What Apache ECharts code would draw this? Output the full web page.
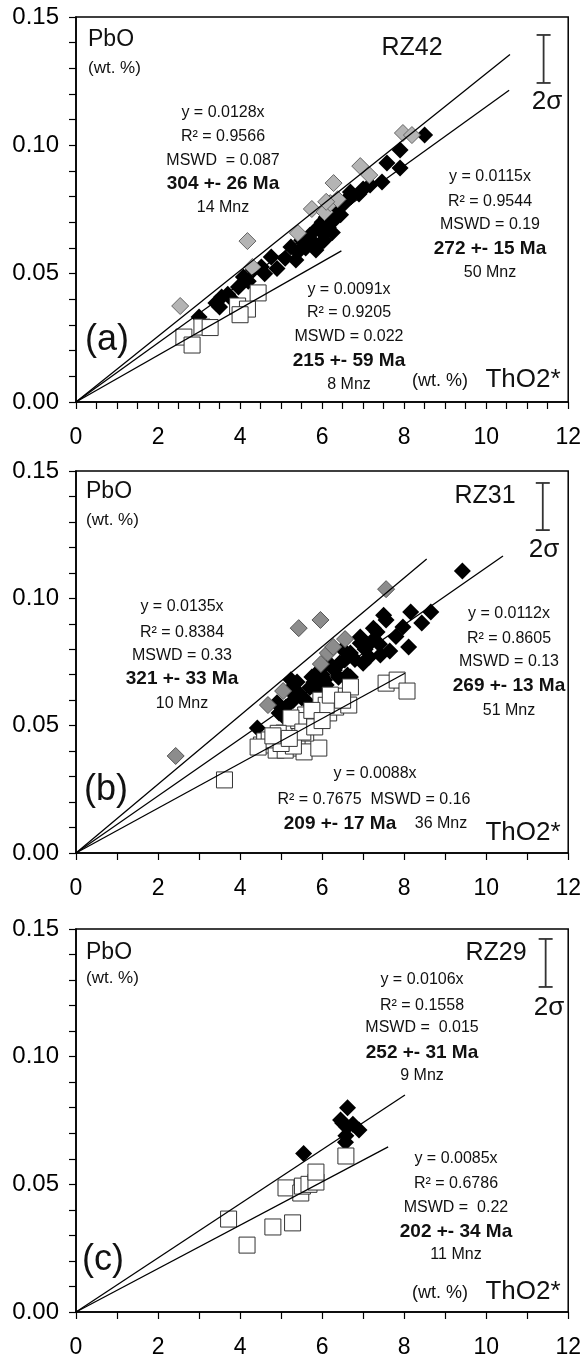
<!DOCTYPE html>
<html>
<head>
<meta charset="utf-8">
<script src="https://cdn.jsdelivr.net/npm/echarts@6/dist/echarts.min.js"></script>
<style>
  html, body { margin: 0; padding: 0; background: #fff; }
  #chart { width: 584px; height: 1360px; }
</style>
</head>
<body>
<div id="chart"></div>
<script>
// ---- data (ThO2* wt.%, PbO wt.%) ----
const xTicks = [0, 2, 4, 6, 8, 10, 12]
const yTicks = [0.00, 0.05, 0.10, 0.15]

// (a) RZ42
const aGray = [[7.97,0.1048],[8.19,0.1040],[6.93,0.0919],[7.15,0.0884],[6.28,0.0853],[5.75,0.0752],[6.06,0.0740],[6.20,0.0775],[6.38,0.0790],[5.41,0.0658],[4.18,0.0627],[4.30,0.0526],[2.54,0.0374],[6.10,0.0780]]
const aBlack = [[8.50,0.1040],[7.90,0.0982],[7.58,0.0931],[7.90,0.0912],[7.46,0.0857],[7.17,0.0845],[6.69,0.0818],[6.55,0.0775],[6.21,0.0709],[6.06,0.0658],[5.97,0.0619],[5.85,0.0592],[5.41,0.0584],[5.24,0.0604],[5.36,0.0553],[4.76,0.0565],[4.52,0.0526],[4.32,0.0514],[4.08,0.0487],[3.96,0.0448],[3.55,0.0409],[3.41,0.0386],[3.00,0.0331],[5.50,0.0630],[5.60,0.0600],[5.70,0.0650],[5.80,0.0620],[5.90,0.0680],[6.00,0.0660],[6.00,0.0700],[6.10,0.0720],[6.15,0.0680],[6.20,0.0740],[6.30,0.0710],[6.35,0.0750],[6.40,0.0770],[6.45,0.0730],[6.60,0.0790],[6.70,0.0800],[6.90,0.0810],[7.00,0.0830],[5.10,0.0560],[4.90,0.0520],[4.60,0.0500],[4.20,0.0470],[3.70,0.0420],[3.80,0.0400],[3.50,0.0370],[6.05,0.0630],[6.25,0.0660]]
const aOpen = [[2.63,0.0253],[2.83,0.0222],[3.07,0.0292],[3.27,0.0290],[3.94,0.0374],[4.18,0.0362],[4.44,0.0425],[4.00,0.0340]]

// (b) RZ31
const bGray = [[2.43,0.0381],[4.68,0.0581],[5.05,0.0636],[5.43,0.0883],[5.96,0.0915],[5.97,0.0742],[6.14,0.0785],[6.27,0.0809],[6.56,0.0840],[7.56,0.1036]]
const bBlack = [[9.42,0.1107],[8.65,0.0946],[8.16,0.0946],[8.43,0.0903],[7.97,0.0887],[8.11,0.0809],[7.56,0.0915],[7.25,0.0883],[7.65,0.0793],[7.42,0.0777],[7.15,0.0770],[6.93,0.0824],[6.69,0.0785],[6.43,0.0746],[6.69,0.0691],[6.06,0.0679],[5.75,0.0691],[5.39,0.0671],[5.43,0.0628],[5.12,0.0573],[5.07,0.0534],[4.42,0.0491],[5.60,0.0600],[5.89,0.0640],[7.50,0.0934],[7.34,0.0868],[6.93,0.0848],[6.55,0.0758],[6.30,0.0719],[6.62,0.0699],[5.24,0.0680],[7.05,0.0800],[7.20,0.0830],[6.80,0.0760],[6.20,0.0740],[6.00,0.0700],[5.70,0.0650],[5.50,0.0610],[5.30,0.0600],[5.00,0.0570],[4.95,0.0550],[5.80,0.0670],[6.40,0.0690],[6.10,0.0660],[7.00,0.0745],[7.40,0.0820],[7.80,0.0850],[5.20,0.0640],[4.90,0.0590],[6.50,0.0800],[5.95,0.0720]]
const bOpen = [[3.62,0.0287],[4.52,0.0424],[4.60,0.0440],[4.88,0.0404],[5.07,0.0471],[5.39,0.0412],[5.56,0.0397],[5.92,0.0412],[5.60,0.0471],[5.60,0.0542],[6.16,0.0550],[6.33,0.0573],[6.65,0.0581],[6.38,0.0616],[6.69,0.0652],[7.56,0.0667],[7.83,0.0679],[8.07,0.0636],[5.97,0.0600],[5.43,0.0520],[4.71,0.0444],[5.24,0.0530],[4.44,0.0416],[4.93,0.0470],[5.10,0.0404],[5.30,0.0420],[5.53,0.0475],[5.82,0.0495],[6.10,0.0580],[6.20,0.0620],[5.75,0.0560],[5.00,0.0430],[4.80,0.0460],[6.50,0.0600],[5.20,0.0450],[6.00,0.0520]]

// (c) RZ29
const cBlack = [[5.55,0.0621],[6.62,0.0800],[6.45,0.0752],[6.90,0.0713],[6.60,0.0725],[6.58,0.0690],[6.57,0.0665],[6.75,0.0735],[6.50,0.0740]]
const cOpen = [[3.72,0.0364],[4.17,0.0262],[4.80,0.0333],[5.28,0.0349],[5.12,0.0486],[5.48,0.0466],[5.52,0.0493],[5.68,0.0500],[5.85,0.0509],[5.85,0.0548],[6.58,0.0611]]

// regression slopes and where each drawn line stops (x)
const aSlopes = [0.0128, 0.0115, 0.0091], aLineEnd = [10.58, 10.56, 6.47]
const bSlopes = [0.0135, 0.0112, 0.0088], bLineEnd = [8.55, 10.41, 8.02]
const cSlopes = [0.0106, 0.0085], cLineEnd = [8.02, 7.61]

// 2 sigma bars: [x, low, high]
const aSigma = [11.40, 0.1243, 0.1430]
const bSigma = [11.38, 0.1268, 0.1453]
const cSigma = [11.45, 0.1273, 0.1461]

const FONT = '"Liberation Sans", Arial, sans-serif'

// panel (a) has half-unit minor ticks on x, (b) and (c) whole units
const panels = [
  { top: 17, height: 385, xMinor: 4 },
  { top: 471, height: 382, xMinor: 2 },
  { top: 929, height: 383, xMinor: 2 }
]

const chart = echarts.init(document.getElementById('chart'))

const grids = panels.map(p => ({
  left: 76, width: 497, top: p.top, height: p.height,
  show: true, borderColor: '#000', borderWidth: 1.5, backgroundColor: '#fff'
}))

const xAxes = panels.map((p, i) => ({
  gridIndex: i, type: 'value', min: 0, max: 12, interval: 2,
  axisLine: { lineStyle: { color: '#000', width: 1.5 } },
  axisTick: { inside: false, length: 7, lineStyle: { color: '#000', width: 1.2 } },
  minorTick: { show: true, splitNumber: p.xMinor, length: 7, lineStyle: { color: '#000', width: 1.2 } },
  axisLabel: { color: '#000', fontSize: 23, fontFamily: FONT, margin: 24 },
  splitLine: { show: false }
}))

const yAxes = panels.map((p, i) => ({
  gridIndex: i, type: 'value', min: 0, max: 0.15, interval: 0.05,
  axisLine: { lineStyle: { color: '#000', width: 1.5 } },
  axisTick: { inside: false, length: 7, lineStyle: { color: '#000', width: 1.2 } },
  minorTick: { show: true, splitNumber: 5, length: 7, lineStyle: { color: '#000', width: 1.2 } },
  axisLabel: { color: '#000', fontSize: 24, fontFamily: FONT, margin: 17, formatter: v => v.toFixed(2) },
  splitLine: { show: false }
}))

function pts(i, data, kind) {
  const styles = {
    black: { symbol: 'diamond', size: [17, 17], color: '#000', border: '#000', bw: 0 },
    grayA: { symbol: 'diamond', size: [17, 17], color: '#b4b4b4', border: '#666', bw: 1 },
    grayB: { symbol: 'diamond', size: [17, 17], color: '#8c8c8c', border: '#555', bw: 1 },
    open: { symbol: 'rect', size: [16, 16], color: '#fff', border: '#333', bw: 1 }
  }
  const s = styles[kind]
  return {
    type: 'scatter', xAxisIndex: i, yAxisIndex: i, data: data,
    symbol: s.symbol, symbolSize: s.size, silent: true,
    itemStyle: { color: s.color, borderColor: s.border, borderWidth: s.bw, opacity: 1 },
    z: kind === 'black' ? 2 : (kind === 'open' ? 3 : 4)
  }
}

function fitLines(i, slopes, ends) {
  return slopes.map((k, j) => ({
    type: 'line', xAxisIndex: i, yAxisIndex: i, silent: true, symbol: 'none',
    data: [[0, 0], [ends[j], k * ends[j]]],
    lineStyle: { color: '#000', width: 1.3 }, z: 5
  }))
}

function sigmaBar(i, s) {
  return {
    type: 'custom', xAxisIndex: i, yAxisIndex: i, silent: true, z: 5,
    data: [s],
    renderItem: (params, api) => {
      const lo = api.coord([api.value(0), api.value(1)])
      const hi = api.coord([api.value(0), api.value(2)])
      const st = { stroke: '#333', lineWidth: 1.8 }
      return { type: 'group', children: [
        { type: 'line', shape: { x1: lo[0], y1: lo[1], x2: hi[0], y2: hi[1] }, style: st },
        { type: 'line', shape: { x1: lo[0] - 7, y1: lo[1], x2: lo[0] + 7, y2: lo[1] }, style: st },
        { type: 'line', shape: { x1: hi[0] - 7, y1: hi[1], x2: hi[0] + 7, y2: hi[1] }, style: st }
      ] }
    }
  }
}

const series = [
  pts(0, aBlack, 'black'), pts(0, aOpen, 'open'), pts(0, aGray, 'grayA'),
  ...fitLines(0, aSlopes, aLineEnd), sigmaBar(0, aSigma),
  pts(1, bBlack, 'black'), pts(1, bOpen, 'open'), pts(1, bGray, 'grayB'),
  ...fitLines(1, bSlopes, bLineEnd), sigmaBar(1, bSigma),
  pts(2, cBlack, 'black'), pts(2, cOpen, 'open'),
  ...fitLines(2, cSlopes, cLineEnd), sigmaBar(2, cSigma)
]

// text helper
function t(x, y, text, size, opt) {
  opt = opt || {}
  return {
    type: 'text', x: x, y: y, z: 10, silent: true,
    style: {
      text: text, fill: opt.color || '#111',
      font: (opt.bold ? 'bold ' : '') + size + 'px ' + FONT,
      textAlign: opt.align || 'center', textVerticalAlign: 'middle'
    }
  }
}
function block(x, ys, lines) {
  return lines.map((l, j) => t(x, ys[j], l, j === 3 ? 19 : 16, { bold: j === 3 }))
}

const graphic = [
  // (a)
  t(88, 40, 'PbO', 23, { align: 'left' }), t(88, 68, '(wt. %)', 17, { align: 'left' }),
  t(412, 48, 'RZ42', 25), t(547, 102, '2σ', 26),
  ...block(223, [113, 137, 161, 184, 208], ['y = 0.0128x', 'R² = 0.9566', 'MSWD  = 0.087', '304 +- 26 Ma', '14 Mnz']),
  ...block(490, [177, 202, 225, 249, 273], ['y = 0.0115x', 'R² = 0.9544', 'MSWD = 0.19', '272 +- 15 Ma', '50 Mnz']),
  ...block(349, [290, 313, 337, 361, 385], ['y = 0.0091x', 'R² = 0.9205', 'MSWD = 0.022', '215 +- 59 Ma', '8 Mnz']),
  t(107, 340, '(a)', 36), t(440, 381, '(wt. %)', 18), t(523, 380, 'ThO2*', 26),
  // (b)
  t(86, 492, 'PbO', 23, { align: 'left' }), t(86, 520, '(wt. %)', 17, { align: 'left' }),
  t(485, 496, 'RZ31', 25), t(544, 550, '2σ', 26),
  ...block(182, [607, 633, 656, 679, 704], ['y = 0.0135x', 'R² = 0.8384', 'MSWD = 0.33', '321 +- 33 Ma', '10 Mnz']),
  ...block(509, [614, 639, 662, 686, 711], ['y = 0.0112x', 'R² = 0.8605', 'MSWD = 0.13', '269 +- 13 Ma', '51 Mnz']),
  t(375, 774, 'y = 0.0088x', 16), t(374, 800, 'R² = 0.7675  MSWD = 0.16', 16),
  t(340, 824, '209 +- 17 Ma', 19, { bold: true }), t(441, 824, '36 Mnz', 16),
  t(106, 790, '(b)', 36), t(523, 833, 'ThO2*', 26),
  // (c)
  t(86, 953, 'PbO', 23, { align: 'left' }), t(86, 978, '(wt. %)', 17, { align: 'left' }),
  t(496, 953, 'RZ29', 25), t(549, 1008, '2σ', 26),
  ...block(422, [980, 1006, 1028, 1053, 1076], ['y = 0.0106x', 'R² = 0.1558', 'MSWD =  0.015', '252 +- 31 Ma', '9 Mnz']),
  ...block(456, [1159, 1184, 1208, 1232, 1255], ['y = 0.0085x', 'R² = 0.6786', 'MSWD =  0.22', '202 +- 34 Ma', '11 Mnz']),
  t(103, 1260, '(c)', 36), t(440, 1293, '(wt. %)', 18), t(523, 1292, 'ThO2*', 26)
]

chart.setOption({
  animation: false,
  backgroundColor: '#fff',
  grid: grids,
  xAxis: xAxes,
  yAxis: yAxes,
  series: series,
  graphic: graphic
})
</script>
</body>
</html>
